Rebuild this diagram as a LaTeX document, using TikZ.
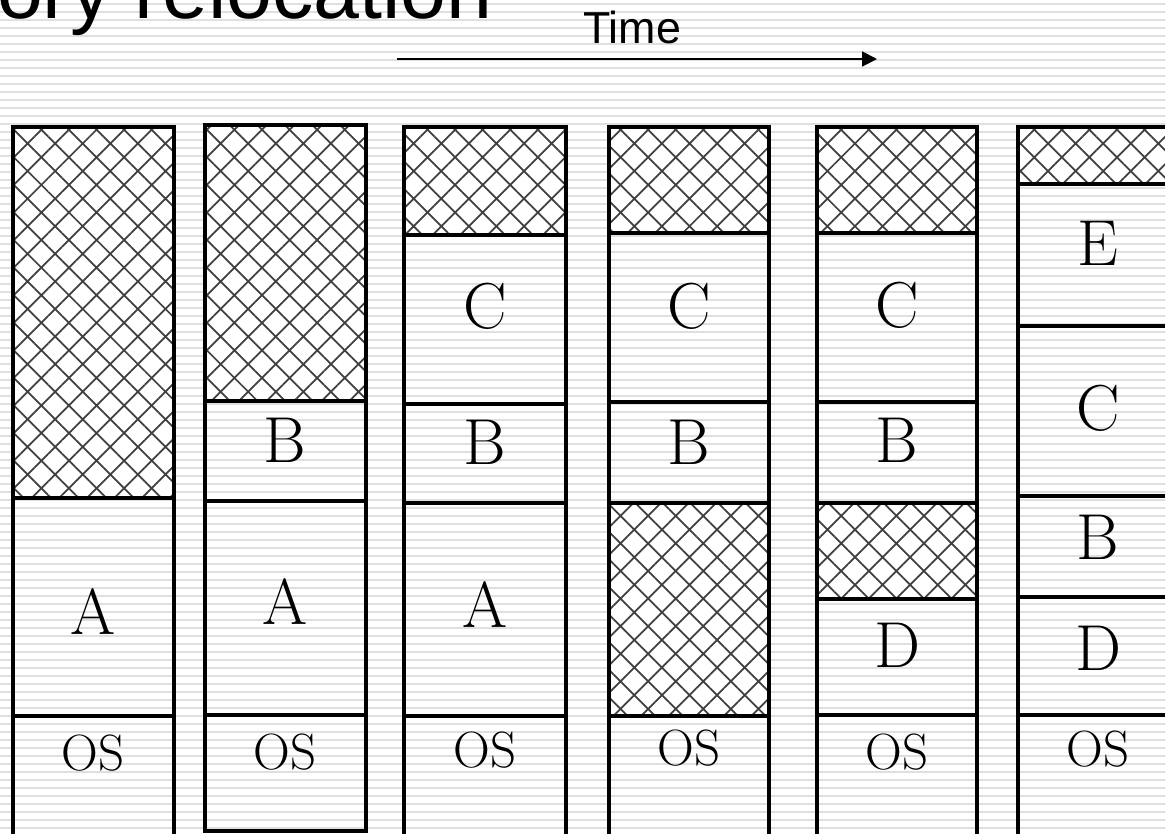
\documentclass[tikz,border=0pt]{standalone}
\usepackage{fontspec}
\setsansfont{Liberation Sans}
\usetikzlibrary{arrows.meta, patterns.meta}

\begin{document}
\begin{tikzpicture}[
    x=0.02cm, y=-0.02cm,
    stripe/.style={gray!25, line width=1.4pt},
    free/.style={preaction={fill=white}, pattern={Hatch[angle=45, distance=11.1pt, line width=1pt]}, pattern color=black!75},
    wall/.style={line width=2pt},
    divide/.style={line width=1.8pt},
    part/.style={font=\fontsize{37}{37}\selectfont},
    os/.style={font=\fontsize{29}{29}\selectfont},
    arrow/.style={-{Triangle[length=8.5pt, width=8.5pt]}, line width=1.1pt}
]
\useasboundingbox (0,0) rectangle (1165,833);
\clip (0,0) rectangle (1165,833);

% striped background
\foreach \y in {4,12,...,836}
    \draw[stripe] (0,\y) -- (1165,\y);

% free memory (hatched)
\path[free] (13,127) rectangle (174,498);
\path[free] (205,125) rectangle (366,401);
\path[free] (404,127) rectangle (566,235);
\path[free] (609,127) rectangle (769,233);
\path[free] (609,503) rectangle (769,716);
\path[free] (817,127) rectangle (977,233);
\path[free] (817,503) rectangle (977,599);
\path[free] (1018,127) rectangle (1200,184);

% partition lines
\draw[divide] (13,498) -- (174,498) (13,716) -- (174,716);
\draw[divide] (205,401) -- (366,401) (205,501) -- (366,501) (205,715) -- (366,715);
\draw[divide] (404,235) -- (566,235) (404,404) -- (566,404) (404,503) -- (566,503) (404,716) -- (566,716);
\draw[divide] (609,233) -- (769,233) (609,402) -- (769,402) (609,503) -- (769,503) (609,716) -- (769,716);
\draw[divide] (817,233) -- (977,233) (817,402) -- (977,402) (817,503) -- (977,503) (817,599) -- (977,599) (817,715) -- (977,715);
\draw[divide] (1018,184) -- (1200,184) (1018,326) -- (1200,326) (1018,496) -- (1200,496) (1018,597) -- (1200,597) (1018,715) -- (1200,715);

% memory columns
\draw[wall] (13,850) |- (174,127) -- (174,850);
\draw[wall] (205,125) rectangle (366,831);
\draw[wall] (404,850) |- (566,127) -- (566,850);
\draw[wall] (609,850) |- (769,127) -- (769,850);
\draw[wall] (817,850) |- (977,127) -- (977,850);
\draw[wall] (1018,850) |- (1200,127);

% process labels
\node[part] (c1a) at (93,612) {A};
\node[os] (c1os) at (93,753) {OS};

\node[part] (c2b) at (285,440) {B};
\node[part] (c2a) at (285,602) {A};
\node[os] (c2os) at (285,752) {OS};

\node[part] (c3c) at (485,306) {C};
\node[part] (c3b) at (485,442) {B};
\node[part] (c3a) at (485,605) {A};
\node[os] (c3os) at (485,750) {OS};

\node[part] (c4c) at (689,306) {C};
\node[part] (c4b) at (689,442) {B};
\node[os] (c4os) at (689,748) {OS};

\node[part] (c5c) at (897,305) {C};
\node[part] (c5b) at (897,440) {B};
\node[part] (c5d) at (897,645) {D};
\node[os] (c5os) at (897,752) {OS};

\node[part] (c6e) at (1098,243) {E};
\node[part] (c6c) at (1098,408) {C};
\node[part] (c6b) at (1098,537) {B};
\node[part] (c6d) at (1098,648) {D};
\node[os] (c6os) at (1098,749) {OS};

% title and time axis
\node[anchor=base east, font=\fontsize{47}{47}\sffamily] (title) at (499,18) {Memory relocation};
\node[anchor=base, font=\fontsize{25.5}{25.5}\sffamily] (time) at (632,43) {Time};
\coordinate (t0) at (397,59);
\coordinate (t1) at (877,59);
\draw[arrow] (t0) -- (t1);

\end{tikzpicture}
\end{document}
